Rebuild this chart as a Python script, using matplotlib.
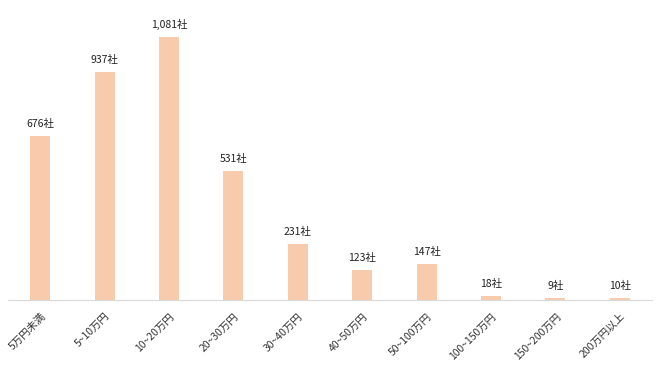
import matplotlib.pyplot as plt

plt.rcParams['font.family'] = ['Noto Sans CJK JP', 'DejaVu Sans']

categories = ['5万円未満', '5~10万円', '10~20万円', '20~30万円', '30~40万円',
              '40~50万円', '50~100万円', '100~150万円', '150~200万円', '200万円以上']
counts = [676, 937, 1081, 531, 231, 123, 147, 18, 9, 10]

fig = plt.figure(figsize=(6.6, 3.71), dpi=100)
ax = fig.add_axes([8 / 660, 71 / 371, 644 / 660, 290 / 371])

x = range(len(categories))
bars = ax.bar(x, counts, width=0.31, color='#F8CBAD')
for b, v in zip(bars, counts):
    ax.annotate(f'{v:,}社', (b.get_x() + b.get_width() / 2, v),
                xytext=(0, 5), textcoords='offset points',
                ha='center', va='bottom', fontsize=7.5, color='#222222')

ax.set_xlim(-0.5, len(categories) - 0.5)
ax.set_ylim(0, 1081 * 290 / 263)
ax.set_xticks(list(x))
ax.set_xticklabels(categories, rotation=45, ha='right', rotation_mode='anchor',
                   fontsize=7.5, color='#333333')
ax.tick_params(axis='x', length=0, pad=8)
ax.set_yticks([])
for s in ['top', 'right', 'left']:
    ax.spines[s].set_visible(False)
ax.spines['bottom'].set_color('#D9D9D9')

fig.savefig('out.png', dpi=100)
